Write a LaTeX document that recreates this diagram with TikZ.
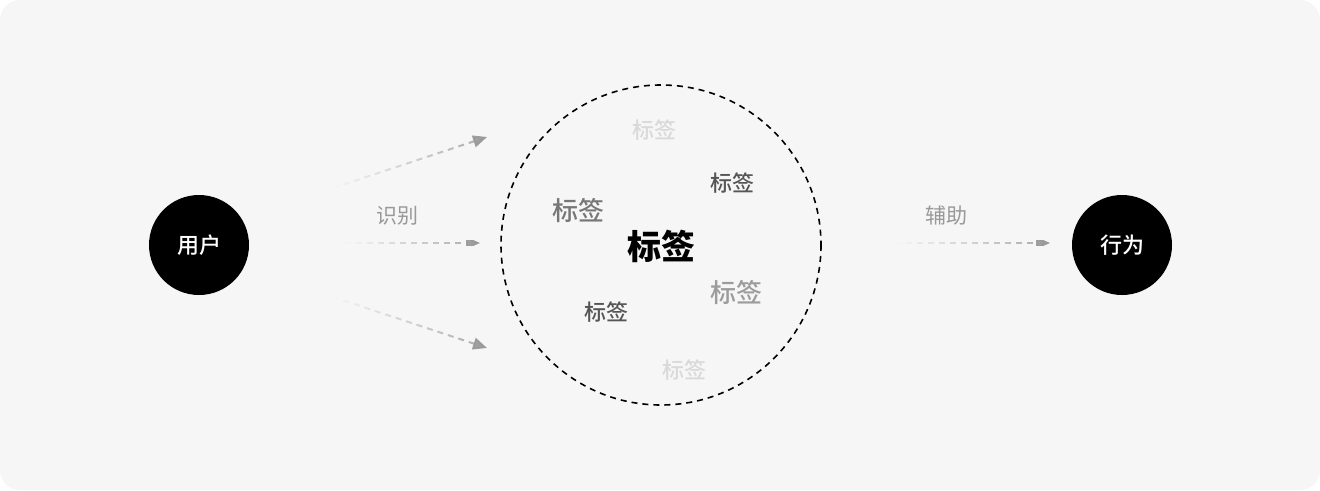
\documentclass[tikz,border=0pt]{standalone}
\usepackage{fontspec}
\setmainfont{Noto Sans CJK SC}
\newfontfamily\medfont{Noto Sans CJK SC Medium}
\usetikzlibrary{arrows.meta,fadings}
\definecolor{bggray}{HTML}{F6F6F6}
\definecolor{labelgray}{HTML}{999999}
\definecolor{dashgray}{HTML}{ABABAB}
\definecolor{tagdark}{HTML}{555555}
\definecolor{tagmid}{HTML}{777777}
\definecolor{taglight}{HTML}{9C9C9C}
\definecolor{tagpale}{HTML}{D9D9D9}
\tikzfading[name=fadein, left color=transparent!100, right color=transparent!0]

\begin{document}
\begin{tikzpicture}[x=1pt,y=-1pt,
  endpoint/.style={circle,fill=black,minimum size=100pt,inner sep=0pt,text=white,font=\fontsize{22}{24}\medfont},
  link/.style={draw=dashgray,line width=2pt,dash pattern=on 6pt off 5pt,path fading=fadein,
    -{Triangle[length=14pt,width=12pt,color=labelgray]}},
  linklabel/.style={text=labelgray,font=\fontsize{21}{24}\selectfont},
  tag/.style={font=\fontsize{#1}{#1}\medfont}]
\useasboundingbox (0,0) rectangle (1320,490);
\fill[white] (0,0) rectangle (1320,490);
\fill[bggray,rounded corners=20pt] (0,0) rectangle (1320,490);

% ends
\node[endpoint] (user) at (199,245) {用户};
\node[endpoint] (act) at (1122,245) {行为};

% tag cloud
\draw[black,line width=1.6pt,dash pattern=on 6pt off 5pt] (661,245) circle (160);
\node[tag=22,text=tagpale] (t1) at (654,130) {标签};
\node[tag=22,text=tagdark] (t2) at (732,183) {标签};
\node[tag=26,text=tagmid] (t3) at (578,211) {标签};
\node[tag=34,text=black,font=\fontsize{34}{34}\bfseries] (tmain) at (661,246) {标签};
\node[tag=26,text=taglight] (t4) at (736,293) {标签};
\node[tag=22,text=tagdark] (t5) at (606,312) {标签};
\node[tag=22,text=tagpale] (t6) at (684,370) {标签};

% arrows
\coordinate (s1) at (333,188);
\coordinate (e1) at (487,137);
\coordinate (s2) at (345,243);
\coordinate (e2) at (480,243);
\coordinate (s3) at (333,297);
\coordinate (e3) at (487,348);
\coordinate (s4) at (895,243);
\coordinate (e4) at (1050,243);
\draw[link] (s1) -- (e1);
\draw[link] (s2) -- (e2);
\draw[link] (s3) -- (e3);
\draw[link] (s4) -- (e4);
\node[linklabel] (see) at (397,216) {识别};
\node[linklabel] (help) at (946,216) {辅助};
\end{tikzpicture}
\end{document}
